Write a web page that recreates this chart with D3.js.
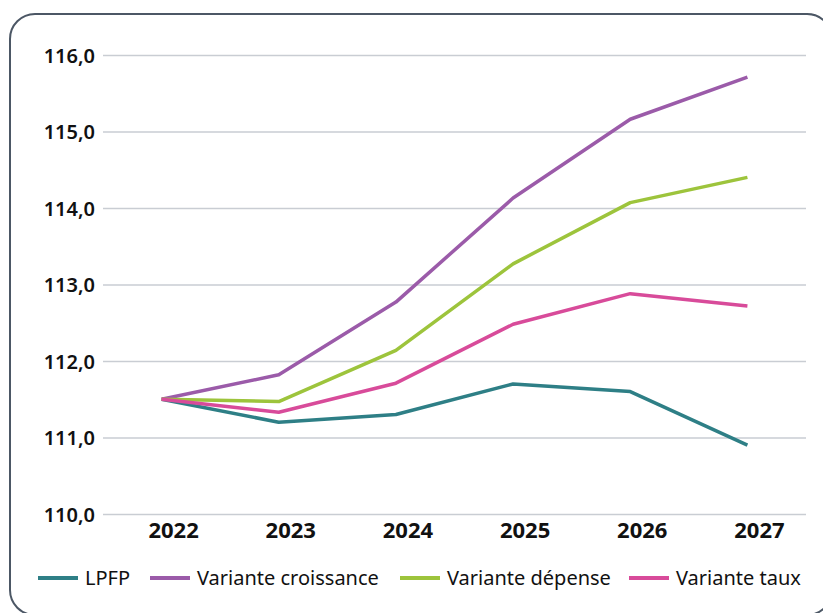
<!DOCTYPE html>
<html>
<head>
<meta charset="utf-8">
<script src="https://cdn.jsdelivr.net/npm/d3@7"></script>
<style>
  body { margin: 0; background: #fff; }
  svg { display: block; }
  svg text { font-family: "Noto Sans", "Open Sans", sans-serif; }
</style>
</head>
<body>
<svg id="chart"></svg>
<script>
// data
const years = ["2022", "2023", "2024", "2025", "2026", "2027"];
const lpfp = [111.5, 111.2, 111.3, 111.7, 111.6, 110.9];
const croissance = [111.5, 111.82, 112.77, 114.13, 115.16, 115.71];
const depense = [111.5, 111.47, 112.14, 113.27, 114.07, 114.4];
const taux = [111.5, 111.33, 111.71, 112.48, 112.88, 112.72];
const yTicks = [110, 111, 112, 113, 114, 115, 116];

const series = [
  { name: "LPFP", values: lpfp, color: "#2e7f86" },
  { name: "Variante croissance", values: croissance, color: "#9b5ba9" },
  { name: "Variante dépense", values: depense, color: "#9dc43c" },
  { name: "Variante taux", values: taux, color: "#d84b9a" },
];

const w = 823, h = 613;
const font = '"Noto Sans", "Open Sans", sans-serif';
const svg = d3.select("#chart").attr("width", w).attr("height", h);

// frame
svg.append("rect")
  .attr("x", 10).attr("y", 14)
  .attr("width", 822).attr("height", 601)
  .attr("rx", 25)
  .attr("fill", "none")
  .attr("stroke", "#4c5765")
  .attr("stroke-width", 2);

//scales
const x = d3.scaleBand(years, [103, 806]);
const y = d3.scaleLinear([110, 116], [514, 55]);

// gridlines + y labels
const yAxis = d3.axisLeft(y)
  .tickValues(yTicks)
  .tickSize(-(806 - 103))
  .tickPadding(8)
  .tickFormat(d => d3.format(".1f")(d).replace(".", ","));
const gy = svg.append("g").attr("transform", "translate(103,0)").call(yAxis);
gy.attr("font-family", font);
gy.select(".domain").remove();
gy.selectAll("line").attr("stroke", "#c9cdd3").attr("stroke-width", 1.5);
gy.selectAll("text")
  .attr("fill", "#111")
  .attr("dy", "0.36em")
  .style("font-family", font)
  .style("font-size", "20px")
  .style("font-weight", 600);

// x labels
const xAxis = d3.axisBottom(x).tickSize(0).tickPadding(0);
const gx = svg.append("g").attr("transform", "translate(12,522)").call(xAxis);
gx.attr("font-family", font);
gx.select(".domain").remove();
gx.selectAll("text")
  .attr("fill", "#111")
  .style("font-family", font)
  .style("font-size", "22px")
  .style("font-weight", 700);

// lines
const line = d3.line()
  .x((d, i) => x(years[i]) + x.bandwidth() / 2)
  .y(d => y(d));

svg.selectAll(".series")
  .data(series)
  .enter()
  .append("path")
  .attr("class", "series")
  .attr("d", d => line(d.values))
  .attr("fill", "none")
  .attr("stroke", d => d.color)
  .attr("stroke-width", 3.5)
  .attr("stroke-linejoin", "round");

// legend
const legendX = [38, 150, 400, 629];
const lg = svg.selectAll(".legend")
  .data(series)
  .enter()
  .append("g")
  .attr("class", "legend")
  .attr("transform", (d, i) => "translate(" + legendX[i] + ",578)");
lg.append("line")
  .attr("x1", 0).attr("x2", 40)
  .attr("stroke", d => d.color)
  .attr("stroke-width", 4);
lg.append("text")
  .attr("x", 47)
  .attr("y", 7)
  .attr("fill", "#111")
  .style("font-family", font)
  .style("font-size", "20px")
  .text(d => d.name);
</script>
</body>
</html>
